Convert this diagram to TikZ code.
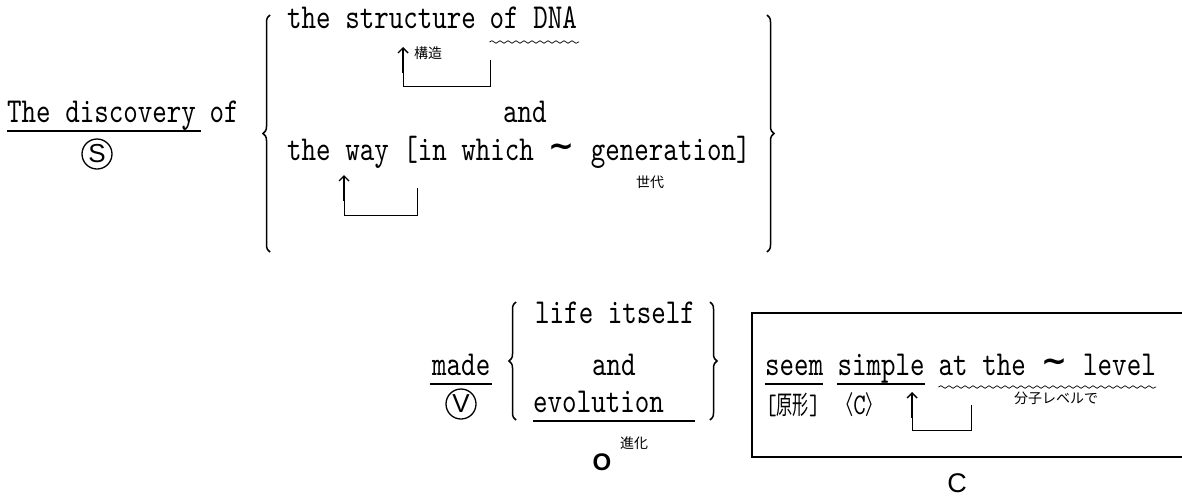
\documentclass[tikz,border=0pt]{standalone}
\usepackage{fontspec}
\usetikzlibrary{decorations.pathreplacing,decorations.pathmorphing,arrows.meta}
\newfontfamily\monofont[FakeStretch=0.79]{lmmono10-regular.otf}
\newfontfamily\jpfont{Noto Sans CJK JP}
\newfontfamily\jpnarrow[FakeStretch=0.62]{Noto Sans CJK JP}
\newfontfamily\labelfont{Liberation Sans}
\newfontfamily\symfont{DejaVu Sans}

\tikzset{
  word/.style={anchor=base west, inner sep=0pt, font=\monofont\fontsize{35}{40}\selectfont},
  small/.style={anchor=base west, inner sep=0pt, font=\fontsize{28}{30}\selectfont},
  gloss/.style={inner sep=0pt, font=\jpfont\fontsize{14}{15}\selectfont},
  swung/.style={inner sep=0pt, font=\symfont\bfseries\fontsize{31}{31}\selectfont},
  roleletter/.style={circle, draw, line width=1.3pt, minimum size=30pt, inner sep=0pt,
    font=\labelfont\fontsize{26}{26}\selectfont},
  rolemark/.style={inner sep=0pt, font=\labelfont\fontsize{27}{27}\selectfont},
  rule/.style={line width=1.1pt},
  wavy/.style={decorate, decoration={snake, amplitude=1.3pt, segment length=8pt}, line width=0.7pt},
  bigbrace/.style={decorate, decoration={brace, amplitude=7pt}, line width=1.5pt},
  link/.style={line width=0.9pt},
  pointer/.style={line width=1.7pt, -{Straight Barb[length=5pt,width=10pt,line width=1.4pt]}},
}

\begin{document}
\begin{tikzpicture}[x=1pt,y=-1pt]
\useasboundingbox (0,0) rectangle (1182,499);

% ---------- subject ----------
\node[word] (disc) at (7,122) {The discovery};
\node[word] (of1) at (209.4,122) {of};
\draw[rule] ([yshift=-9pt]disc.base west) -- ([yshift=-9pt,xshift=5pt]disc.base east);
\node[roleletter] (S) at (97,154) {S};

% braces around the coordinated objects of "of"
\coordinate (lbB) at (270,252);
\coordinate (lbT) at (270,15);
\draw[bigbrace] (lbB) -- (lbT);
\coordinate (rbT) at (767,15);
\coordinate (rbB) at (767,252);
\draw[bigbrace] (rbT) -- (rbB);

% first conjunct
\node[word] (struct) at (287,28) {the structure};
\node[word] (ofdna) at (489.5,28) {of DNA};
\draw[wavy] ([yshift=-14pt]ofdna.base west) -- ([yshift=-14pt,xshift=2pt]ofdna.base east);
\coordinate (p1tip) at (403,47);
\coordinate (p1mid) at (403,73);
\coordinate (p1bot) at (403,86);
\coordinate (p1end) at (490,86);
\coordinate (p1top) at (490,60);
\draw[link] (p1top) -- (p1end) -- (p1bot) -- (p1mid);
\draw[pointer] (p1mid) -- (p1tip);
\node[gloss, anchor=west] (g1) at (414,53) {構造};

\node[word] (and1) at (503,122) {and};

% second conjunct
\node[word] (way) at (287,160) {the way [in which};
\node[swung] (sw1) at (561,150) {∼};
\node[word] (gen) at (590.7,160) {generation]};
\node[gloss] (g2) at (650,182) {世代};
\coordinate (p2tip) at (344,175);
\coordinate (p2mid) at (344,201);
\coordinate (p2bot) at (344,215);
\coordinate (p2end) at (417,215);
\coordinate (p2top) at (417,188);
\draw[link] (p2top) -- (p2end) -- (p2bot) -- (p2mid);
\draw[pointer] (p2mid) -- (p2tip);

% ---------- verb ----------
\node[word] (made) at (432,375) {made};
\draw[rule] ([yshift=-9pt,xshift=-2pt]made.base west) -- ([yshift=-9pt,xshift=2pt]made.base east);
\node[roleletter] (V) at (461,404) {V};

% object
\coordinate (olB) at (516,420);
\coordinate (olT) at (516,302);
\draw[bigbrace] (olB) -- (olT);
\coordinate (orT) at (710,302);
\coordinate (orB) at (710,420);
\draw[bigbrace] (orT) -- (orB);
\node[word] (life) at (535,323) {life itself};
\node[word] (and2) at (592,375) {and};
\node[word] (evol) at (533,412) {evolution};
\draw[rule] ([yshift=-9pt]evol.base west) -- ++(162,0);
\node[rolemark, font=\labelfont\bfseries\fontsize{24}{24}\selectfont] (O) at (602,462) {O};
\node[gloss] (g3) at (634,443) {進化};

% ---------- complement ----------
\draw[line width=1.2pt] (1190,313) -- (752,313) -- (752,457) -- (1190,457);
\node[word] (seem) at (765,375) {seem};
\node[word] (simple) at (837.3,375) {simple};
\node[word] (atthe) at (938.5,375) {at the};
\node[swung] (sw2) at (1054,365) {∼};
\node[word] (level) at (1083,375) {level};
\draw[rule] ([yshift=-9pt]seem.base west) -- ([yshift=-9pt]seem.base east);
\draw[rule] ([yshift=-9pt]simple.base west) -- ([yshift=-9pt]simple.base east);
\draw[wavy] ([yshift=-12pt]atthe.base west) -- ([yshift=-12pt]level.base east);
\node[small] (base) at (765,414) {\monofont[\jpnarrow\fontsize{26}{26}\selectfont 原形\monofont\fontsize{28}{30}\selectfont]};
\node[small] (ctag) at (837,414) {\jpnarrow\fontsize{26}{26}\selectfont 〈\monofont\fontsize{30}{30}\selectfont C\jpnarrow\fontsize{26}{26}\selectfont 〉};
\coordinate (p3tip) at (912,392);
\coordinate (p3mid) at (912,418);
\coordinate (p3bot) at (912,430);
\coordinate (p3end) at (971,430);
\coordinate (p3top) at (971,405);
\draw[link] (p3top) -- (p3end) -- (p3bot) -- (p3mid);
\draw[pointer] (p3mid) -- (p3tip);
\node[gloss] (g4) at (1056,398) {分子レベルで};
\node[rolemark] (C) at (957,483) {C};
\end{tikzpicture}
\end{document}
